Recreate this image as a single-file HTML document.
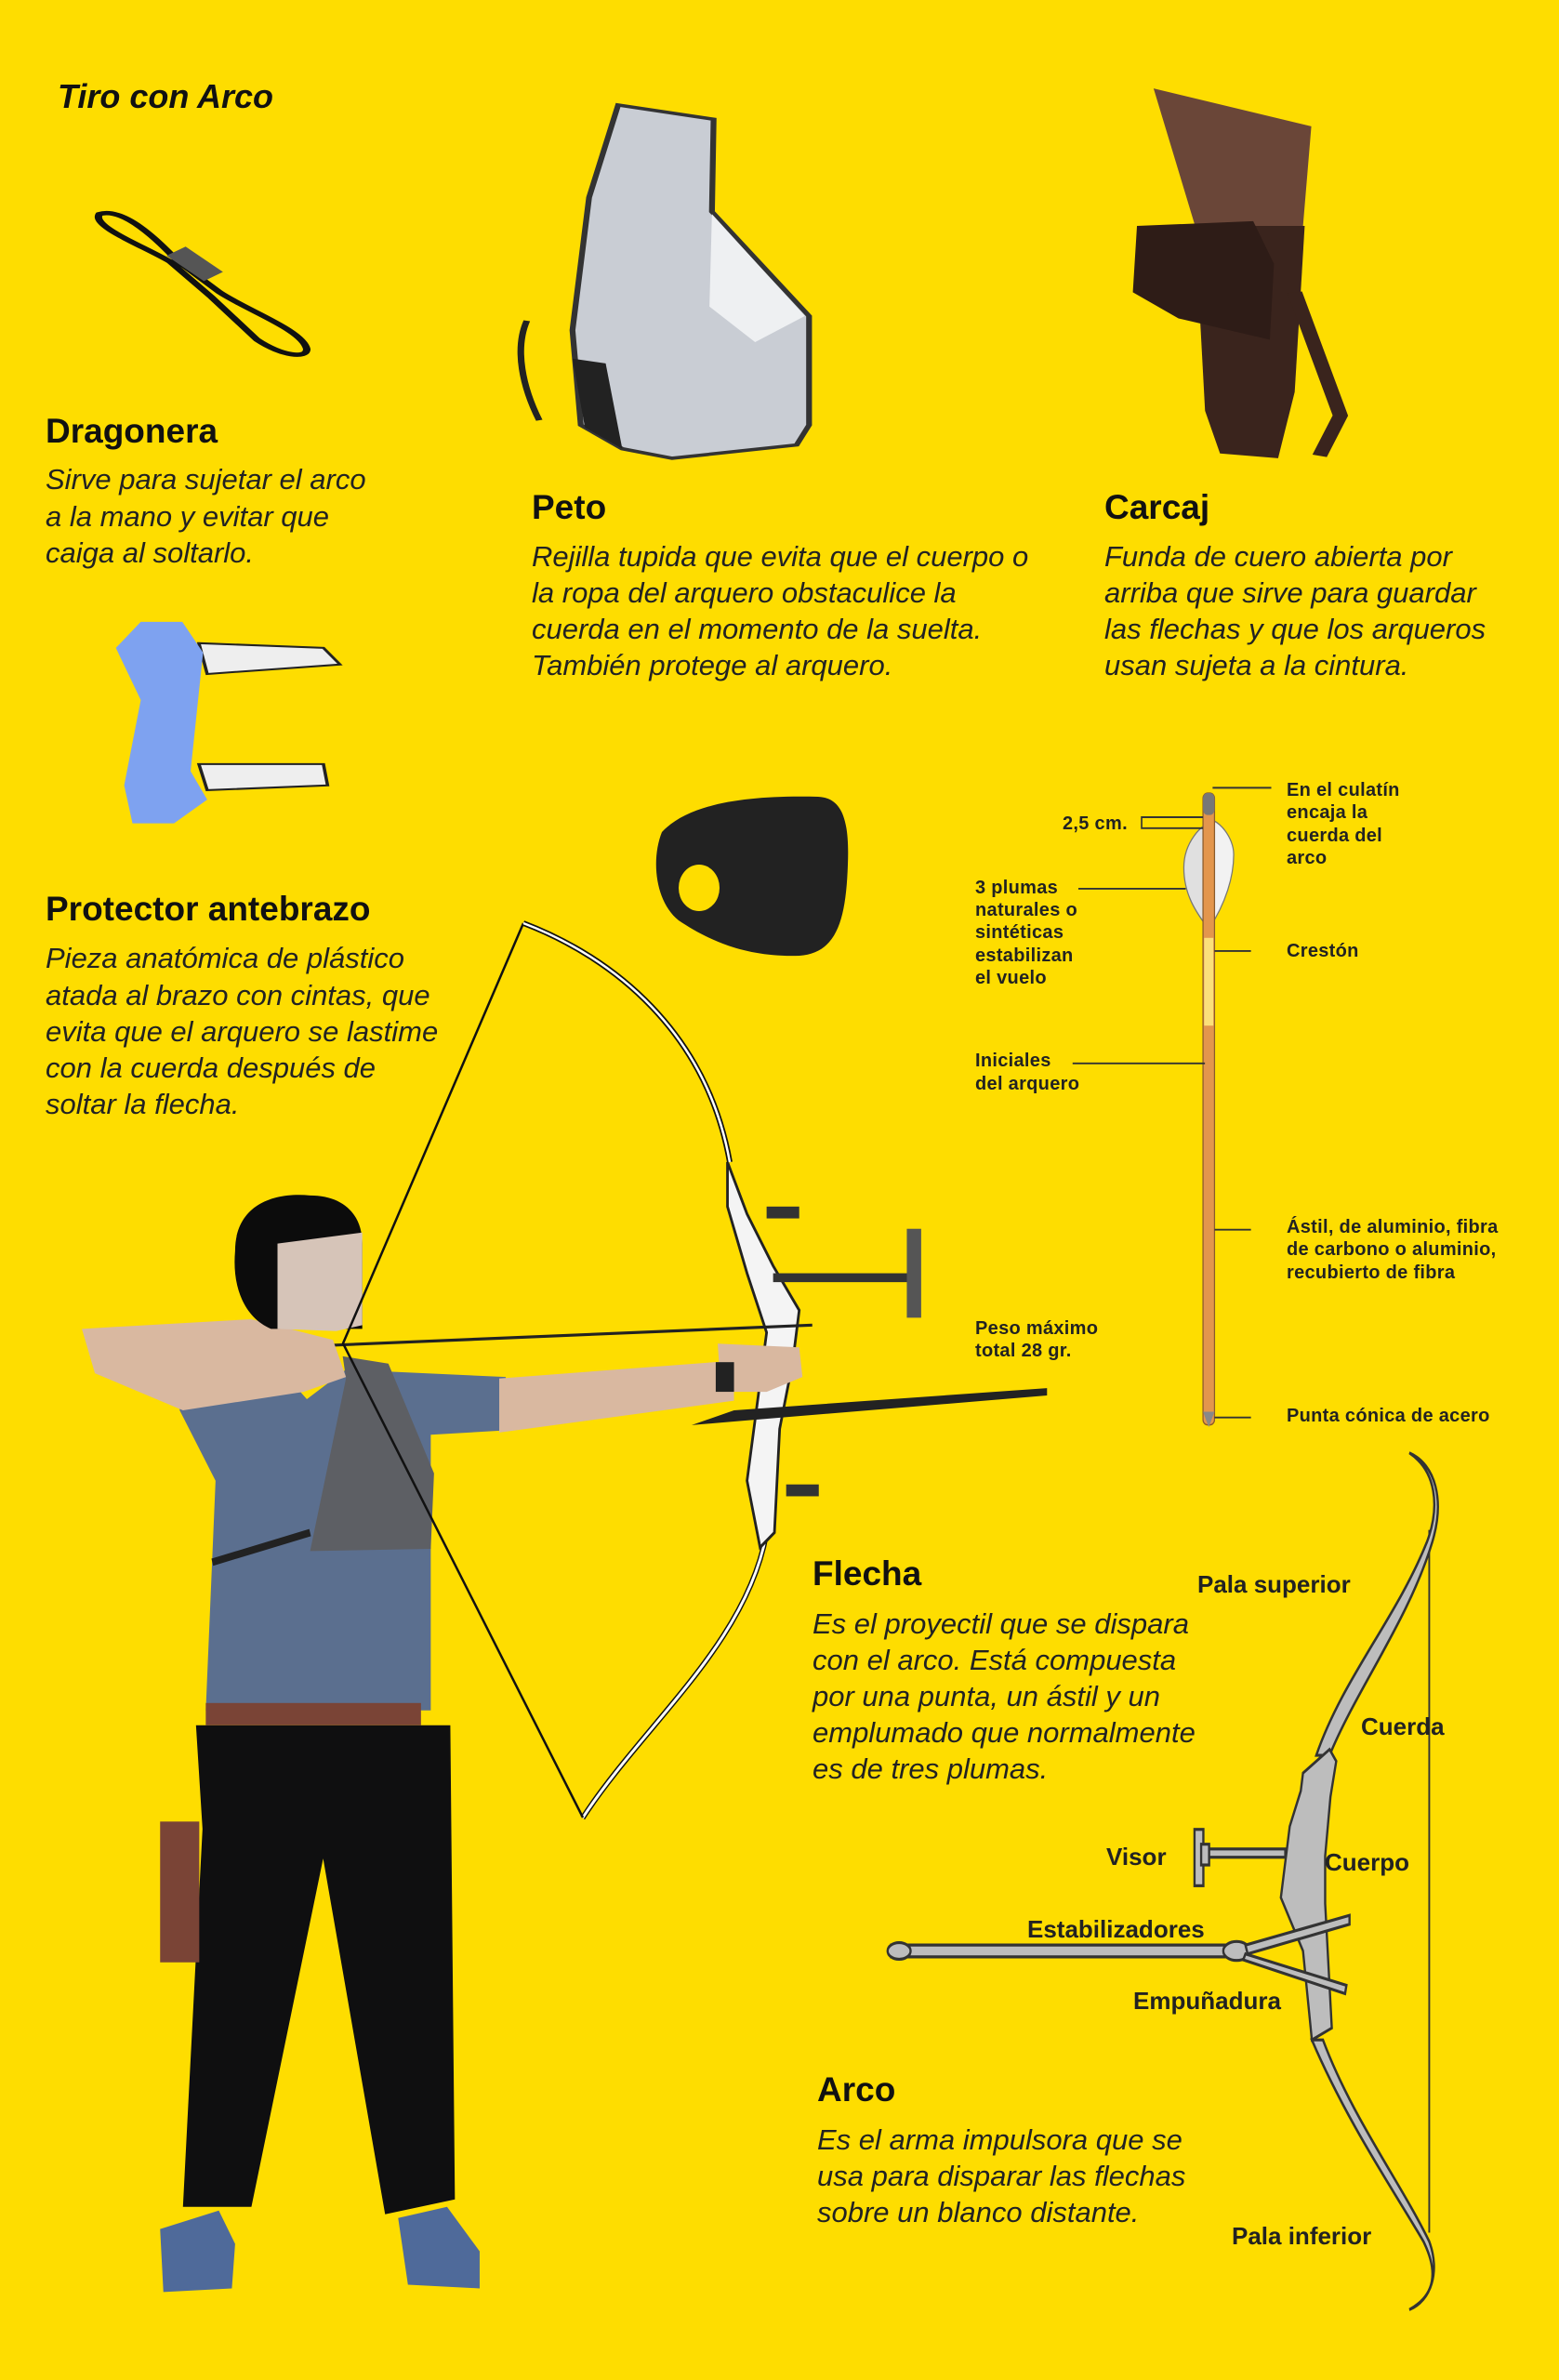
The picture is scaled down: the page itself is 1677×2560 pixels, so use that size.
<!DOCTYPE html>
<html><head><meta charset="utf-8"><style>
html,body{margin:0;padding:0;background:#FEDD00;}
svg{display:block}
.h{font-family:"Liberation Sans",sans-serif;font-weight:bold;font-size:37px;fill:#111}
.b{font-family:"Liberation Sans",sans-serif;font-style:italic;font-size:31px;fill:#222}
.s{font-family:"Liberation Sans",sans-serif;font-weight:bold;font-size:20px;fill:#222;letter-spacing:0.3px}
.m{font-family:"Liberation Sans",sans-serif;font-weight:bold;font-size:26px;fill:#222}
</style></head><body>
<svg width="1677" height="2560" viewBox="0 0 1677 2560" xmlns="http://www.w3.org/2000/svg">
<rect width="1677" height="2560" fill="#FEDD00"/>

<!-- top products -->
<g transform="translate(80,90) scale(0.893,0.510)">
  <path d="M30,275 C60,260 100,330 125,375 L175,440 C210,480 275,520 280,560 C280,580 250,575 220,540 L165,450 L115,375 C80,340 20,300 30,275 Z" fill="none" stroke="#111" stroke-width="9"/>
  <rect x="110" y="365" width="70" height="30" fill="#555" transform="rotate(50 145 380)"/>
  <path d="M545,500 C530,560 540,640 560,710" fill="none" stroke="#222" stroke-width="8"/>
  <path d="M655,45 L770,75 L768,270 L885,490 L885,720 L870,762 L720,790 L660,770 L610,720 L600,520 L620,240 Z" fill="#c9cdd4" stroke="#333" stroke-width="7"/>
  <path d="M768,275 L880,490 L820,545 L765,470 Z" fill="#eef0f2"/>
  <path d="M600,580 L640,590 L660,770 L615,725 Z" fill="#222"/>
  <path d="M1300,10 L1490,90 L1480,300 L1350,300 Z" fill="#6a4638"/>
  <path d="M1350,300 L1482,300 L1470,650 L1450,790 L1380,780 L1362,690 Z" fill="#3a241d"/>
  <path d="M1280,300 L1420,290 L1445,380 L1440,540 L1330,495 L1275,440 Z" fill="#2e1c17"/>
  <path d="M1470,440 L1525,700 L1500,785" fill="none" stroke="#3a241d" stroke-width="18"/>
  <path d="M150,1180 L300,1190 L320,1225 L160,1245 Z" fill="#eee" stroke="#222" stroke-width="4"/>
  <path d="M150,1435 L300,1435 L305,1480 L160,1490 Z" fill="#eee" stroke="#222" stroke-width="4"/>
  <path d="M80,1135 L130,1135 L155,1200 L140,1450 L160,1510 L120,1560 L70,1560 L60,1480 L80,1300 L50,1190 Z" fill="#7ea2f0"/>
</g>
<path d="M712,895 C740,865 800,855 880,857 C905,858 914,880 912,930 C910,990 900,1025 860,1028 C800,1030 760,1010 730,990 C705,970 700,925 712,895 Z" fill="#222"/>
<ellipse cx="752" cy="955" rx="22" ry="25" fill="#FEDD00"/>

<!-- archer -->
<g transform="translate(60,1250) scale(0.7015,0.797)">
  <path d="M1090,500 C1060,650 900,760 808,885" fill="none" stroke="#111" stroke-width="8"/>
  <path d="M1090,500 C1060,650 900,760 808,885" fill="none" stroke="#fff" stroke-width="4"/>
  <path d="M1030,0 L1060,70 L1100,140 L1140,200 L1130,270 L1110,360 L1102,500 L1080,520 L1060,430 L1075,330 L1090,230 L1060,150 L1030,60 Z" fill="#f4f4f4" stroke="#222" stroke-width="4"/>
  <rect x="1100" y="150" width="215" height="12" fill="#333"/>
  <rect x="1305" y="90" width="22" height="120" fill="#555"/>
  <rect x="1090" y="60" width="50" height="16" fill="#333"/>
  <rect x="1120" y="435" width="50" height="16" fill="#333"/>
  <path d="M975,355 L1040,335 L1520,305 L1520,315 L1040,350 Z" fill="#222"/>
  <line x1="400" y1="248" x2="1160" y2="220" stroke="#222" stroke-width="4"/>
  <path d="M215,760 L605,760 L612,1400 L505,1420 L410,940 L300,1410 L195,1410 L225,900 Z" fill="#0f0f10"/>
  <path d="M160,1440 L250,1415 L275,1460 L270,1520 L165,1525 Z" fill="#4f6a9a"/>
  <path d="M525,1425 L600,1410 L650,1470 L650,1520 L540,1515 Z" fill="#4f6a9a"/>
  <rect x="160" y="890" width="60" height="190" fill="#7a4436"/>
  <path d="M190,270 L330,265 L385,320 L445,280 L690,290 L690,362 L575,368 L575,740 L230,740 L245,430 L190,335 Z" fill="#5b6f8f"/>
  <path d="M440,262 L510,272 L580,420 L575,522 L390,525 L445,292 Z" fill="#5d5f64"/>
  <path d="M240,540 L390,500" stroke="#222" stroke-width="10"/>
  <rect x="230" y="730" width="330" height="30" fill="#7a4436"/>
  <path d="M40,225 L300,212 L425,240 L445,290 L380,310 L195,335 L60,285 Z" fill="#d9b8a0"/>
  <path d="M680,292 L1040,268 L1040,322 L680,365 Z" fill="#d9b8a0"/>
  <path d="M1015,245 L1140,250 L1145,290 L1090,310 L1020,310 Z" fill="#d9b8a0"/>
  <rect x="1012" y="270" width="28" height="40" fill="#222"/>
  <path d="M275,120 C275,60 330,40 390,45 C440,45 470,70 470,110 L470,225 L330,225 C290,210 270,170 275,120 Z" fill="#0c0c0c"/>
  <path d="M340,110 L470,95 L470,220 L430,228 L340,225 Z" fill="#d6c4b8"/>
</g>
<!-- string -->
<polyline points="563,993 369,1445 627,1955" fill="none" stroke="#111" stroke-width="2.5"/>
<!-- upper limb of bow -->
<path d="M563,993 C660,1030 760,1110 785,1250" fill="none" stroke="#111" stroke-width="6"/>
<path d="M563,993 C660,1030 760,1110 785,1250" fill="none" stroke="#fff" stroke-width="2.5"/>

<!-- arrow diagram -->
<g transform="translate(1030,820) scale(0.4126,0.472)">
  <path d="M590,240 C590,180 640,140 655,140 L655,380 C620,340 590,300 590,240 Z" fill="#e0e0e0" stroke="#777" stroke-width="3"/>
  <path d="M720,210 C720,170 680,130 655,130 L655,380 C700,320 720,260 720,210 Z" fill="#f2f2f2" stroke="#777" stroke-width="3"/>
  <rect x="640" y="70" width="30" height="1440" rx="12" fill="#e3964d" stroke="#8a5a2a" stroke-width="3"/>
  <rect x="643" y="400" width="24" height="200" fill="#fbe07a"/>
  <rect x="640" y="70" width="30" height="50" rx="12" fill="#777"/>
  <path d="M640,1480 L670,1480 L655,1515 Z" fill="#888"/>
  <g stroke="#333" stroke-width="4" fill="none">
    <line x1="665" y1="58" x2="818" y2="58"/>
    <polyline points="640,125 480,125 480,150 640,150"/>
    <line x1="315" y1="288" x2="595" y2="288"/>
    <line x1="670" y1="430" x2="765" y2="430"/>
    <line x1="300" y1="686" x2="645" y2="686"/>
    <line x1="670" y1="1065" x2="765" y2="1065"/>
    <line x1="670" y1="1493" x2="765" y2="1493"/>
  </g>
</g>
<g>
<text x="1384" y="856" class="s">En el culatín</text>
<text x="1384" y="880" class="s">encaja la</text>
<text x="1384" y="905" class="s">cuerda del</text>
<text x="1384" y="929" class="s">arco</text>
<text x="1143" y="892" class="s">2,5 cm.</text>
<text x="1049" y="961" class="s">3 plumas</text>
<text x="1049" y="985" class="s">naturales o</text>
<text x="1049" y="1009" class="s">sintéticas</text>
<text x="1049" y="1034" class="s">estabilizan</text>
<text x="1049" y="1058" class="s">el vuelo</text>
<text x="1384" y="1029" class="s">Crestón</text>
<text x="1049" y="1147" class="s">Iniciales</text>
<text x="1049" y="1172" class="s">del arquero</text>
<text x="1384" y="1326" class="s">Ástil, de aluminio, fibra</text>
<text x="1384" y="1350" class="s">de carbono o aluminio,</text>
<text x="1384" y="1375" class="s">recubierto de fibra</text>
<text x="1049" y="1435" class="s">Peso máximo</text>
<text x="1049" y="1459" class="s">total 28 gr.</text>
<text x="1384" y="1529" class="s">Punta cónica de acero</text>
</g>

<!-- bow diagram -->
<g transform="translate(930,1550) scale(0.4764,0.6378)" stroke="#333" stroke-width="5">
  <line x1="1275" y1="150" x2="1275" y2="1335" stroke-width="4"/>
  <path d="M1230,20 C1290,50 1300,110 1270,170 C1200,300 1080,400 1020,530 L1050,530 C1110,420 1230,300 1282,170 C1310,100 1290,40 1230,20 Z" fill="#bdbdbd"/>
  <path d="M1035,1010 C1100,1140 1210,1250 1275,1350 C1300,1400 1280,1450 1230,1465 C1290,1440 1295,1400 1262,1350 C1200,1270 1090,1150 1010,1010 Z" fill="#bdbdbd"/>
  <path d="M1050,520 L990,560 L985,590 L960,650 L940,770 L990,860 L1010,1010 L1055,990 L1050,920 L1040,780 L1040,700 L1052,600 L1065,540 Z" fill="#bdbdbd"/>
  <path d="M60,850 L820,850 L820,870 L60,870 Z" fill="#bdbdbd"/>
  <ellipse cx="78" cy="860" rx="26" ry="14" fill="#bdbdbd"/>
  <ellipse cx="840" cy="860" rx="30" ry="16" fill="#bdbdbd"/>
  <path d="M860,850 L1095,800 L1095,815 L865,865 Z" fill="#bdbdbd"/>
  <path d="M860,865 L1088,918 L1085,932 L855,875 Z" fill="#bdbdbd"/>
  <rect x="770" y="688" width="180" height="14" fill="#bdbdbd"/>
  <rect x="745" y="655" width="20" height="95" fill="#bdbdbd"/>
  <rect x="760" y="680" width="18" height="35" fill="#bdbdbd"/>
</g>
<text x="1288" y="1713" class="m">Pala superior</text>
<text x="1464" y="1866" class="m">Cuerda</text>
<text x="1190" y="2006" class="m">Visor</text>
<text x="1425" y="2012" class="m">Cuerpo</text>
<text x="1105" y="2084" class="m">Estabilizadores</text>
<text x="1219" y="2161" class="m">Empuñadura</text>
<text x="1325" y="2414" class="m">Pala inferior</text>

<text x="62" y="116" style="font-family:'Liberation Sans',sans-serif;font-weight:bold;font-style:italic;font-size:36px;fill:#111">Tiro con Arco</text>

<text x="49" y="476" class="h">Dragonera</text>
<text class="b"><tspan x="49" y="526">Sirve para sujetar el arco</tspan><tspan x="49" y="566">a la mano y evitar que</tspan><tspan x="49" y="605">caiga al soltarlo.</tspan></text>

<text x="572" y="558" class="h">Peto</text>
<text class="b"><tspan x="572" y="609">Rejilla tupida que evita que el cuerpo o</tspan><tspan x="572" y="648">la ropa del arquero obstaculice la</tspan><tspan x="572" y="687">cuerda en el momento de la suelta.</tspan><tspan x="572" y="726">También protege al arquero.</tspan></text>

<text x="1188" y="558" class="h">Carcaj</text>
<text class="b"><tspan x="1188" y="609">Funda de cuero abierta por</tspan><tspan x="1188" y="648">arriba que sirve para guardar</tspan><tspan x="1188" y="687">las flechas y que los arqueros</tspan><tspan x="1188" y="726">usan sujeta a la cintura.</tspan></text>

<text x="49" y="990" class="h">Protector antebrazo</text>
<text class="b"><tspan x="49" y="1041">Pieza anatómica de plástico</tspan><tspan x="49" y="1081">atada al brazo con cintas, que</tspan><tspan x="49" y="1120">evita que el arquero se lastime</tspan><tspan x="49" y="1159">con la cuerda después de</tspan><tspan x="49" y="1198">soltar la flecha.</tspan></text>

<text x="874" y="1705" class="h">Flecha</text>
<text class="b"><tspan x="874" y="1757">Es el proyectil que se dispara</tspan><tspan x="874" y="1796">con el arco. Está compuesta</tspan><tspan x="874" y="1835">por una punta, un ástil y un</tspan><tspan x="874" y="1874">emplumado que normalmente</tspan><tspan x="874" y="1913">es de tres plumas.</tspan></text>

<text x="879" y="2260" class="h">Arco</text>
<text class="b"><tspan x="879" y="2312">Es el arma impulsora que se</tspan><tspan x="879" y="2351">usa para disparar las flechas</tspan><tspan x="879" y="2390">sobre un blanco distante.</tspan></text>
</svg>
</body></html>
